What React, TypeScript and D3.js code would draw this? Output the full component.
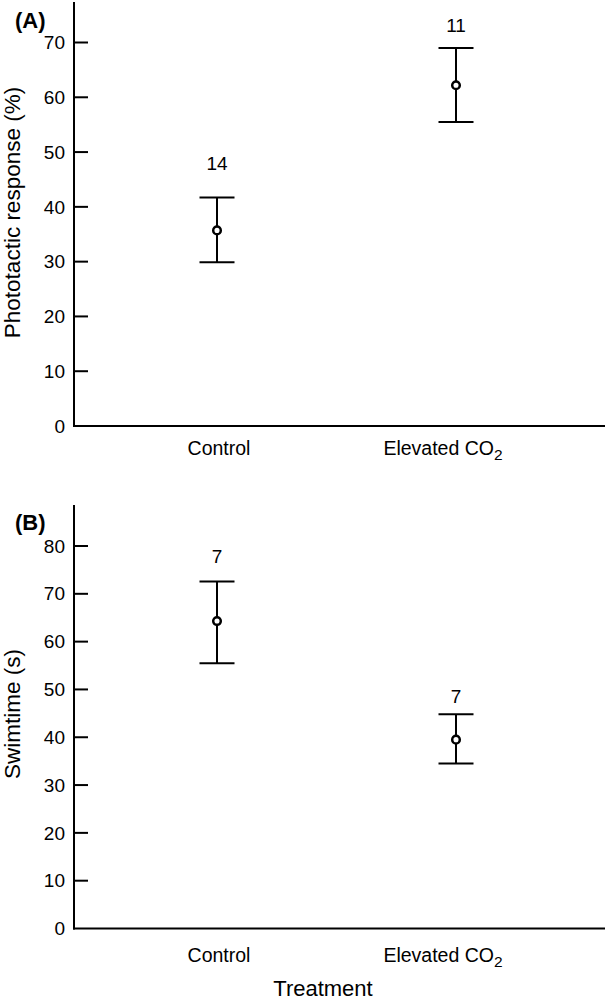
import React from "react";
import * as d3 from "d3";

const WIDTH = 605;
const HEIGHT = 1003;
const FONT = "'Liberation Sans', Arial, Helvetica, sans-serif";

const categories = ["Control", "Elevated CO2"];

// panel A: phototactic response (%)
const meanA = [35.7, 62.2];
const upperA = [41.7, 69.0];
const lowerA = [29.9, 55.5];
const nA = [14, 11];
const nLabelA = [47.9, 73.1]; // height of the n labels, in data units
const ticksA = [0, 10, 20, 30, 40, 50, 60, 70];

// panel B: swimtime (s)
const meanB = [64.3, 39.5];
const upperB = [72.6, 44.8];
const lowerB = [55.5, 34.5];
const nB = [7, 7];
const nLabelB = [77.9, 48.5];
const ticksB = [0, 10, 20, 30, 40, 50, 60, 70, 80];

const AXIS_X = 74;

function Panel({ label, title, y, ticks, mean, upper, lower, n, nLabel, axisTop, labelY, titleY, catOffset }) {
  const x = d3.scalePoint().domain(categories).range([217, 456]);
  const base = y(0);
  return (
    <g>
      <text x={15} y={labelY} fontSize={22} fontWeight={700} fontFamily={FONT}>
        {label}
      </text>
      <line x1={AXIS_X} x2={AXIS_X} y1={axisTop} y2={base + 1} stroke="#000" strokeWidth={2} />
      <line x1={AXIS_X - 1} x2={WIDTH} y1={base} y2={base} stroke="#000" strokeWidth={2} />
      {ticks.map((t) => (
        <g key={t}>
          {t > 0 && (
            <line x1={AXIS_X} x2={AXIS_X + 14} y1={y(t)} y2={y(t)} stroke="#000" strokeWidth={2} />
          )}
          <text
            x={AXIS_X - 9}
            y={y(t)}
            dy="0.35em"
            textAnchor="end"
            fontSize={19}
            fontFamily={FONT}
          >
            {t}
          </text>
        </g>
      ))}
      <text
        transform={`translate(19.5 ${titleY}) rotate(-90)`}
        textAnchor="middle"
        fontSize={22.5}
        fontFamily={FONT}
      >
        {title}
      </text>
      {categories.map((c, i) => {
        const cx = x(c);
        return (
          <g key={c}>
            <line x1={cx} x2={cx} y1={y(upper[i])} y2={y(lower[i])} stroke="#000" strokeWidth={2} />
            <line x1={cx - 17.5} x2={cx + 17.5} y1={y(upper[i])} y2={y(upper[i])} stroke="#000" strokeWidth={2} />
            <line x1={cx - 17.5} x2={cx + 17.5} y1={y(lower[i])} y2={y(lower[i])} stroke="#000" strokeWidth={2} />
            <circle cx={cx} cy={y(mean[i])} r={3.8} fill="#fff" stroke="#000" strokeWidth={2.5} />
            <text
              x={cx}
              y={y(nLabel[i])}
              dy="0.35em"
              textAnchor="middle"
              fontSize={19}
              fontFamily={FONT}
            >
              {n[i]}
            </text>
          </g>
        );
      })}
      <text x={219} y={base + catOffset} textAnchor="middle" fontSize={19.5} fontFamily={FONT}>
        Control
      </text>
      <text x={443} y={base + catOffset} textAnchor="middle" fontSize={19.5} fontFamily={FONT}>
        Elevated CO<tspan dy={5} fontSize={15.5}>2</tspan>
      </text>
    </g>
  );
}

export default function App() {
  const yA = d3.scaleLinear().domain([0, 70]).range([426, 42.5]);
  const yB = d3.scaleLinear().domain([0, 80]).range([928.5, 546]);
  return (
    <svg
      width={WIDTH}
      height={HEIGHT}
      style={{ position: "absolute", left: 0, top: 0, background: "#fff" }}
    >
      <Panel
        label="(A)"
        title="Phototactic response (%)"
        y={yA}
        ticks={ticksA}
        mean={meanA}
        upper={upperA}
        lower={lowerA}
        n={nA}
        nLabel={nLabelA}
        axisTop={2}
        labelY={28}
        titleY={212.5}
        catOffset={29}
      />
      <Panel
        label="(B)"
        title="Swimtime (s)"
        y={yB}
        ticks={ticksB}
        mean={meanB}
        upper={upperB}
        lower={lowerB}
        n={nB}
        nLabel={nLabelB}
        axisTop={505}
        labelY={530}
        titleY={714}
        catOffset={33}
      />
      <text x={323} y={996} textAnchor="middle" fontSize={22} fontFamily={FONT}>
        Treatment
      </text>
    </svg>
  );
}
